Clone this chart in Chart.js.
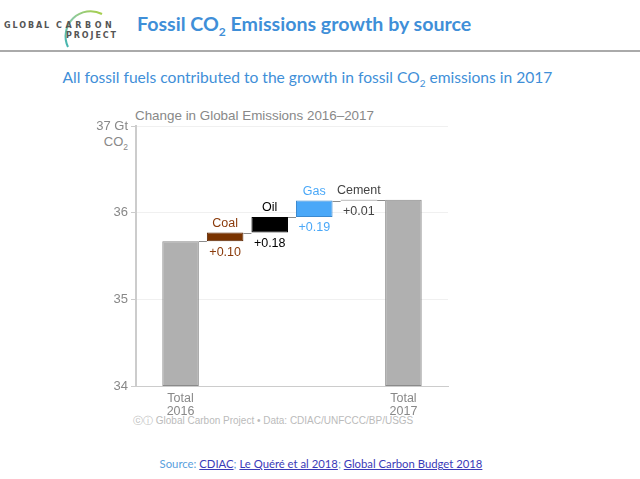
<!DOCTYPE html>
<html>
<head>
<meta charset="utf-8">
<script src="https://cdn.jsdelivr.net/npm/chart.js@4.4.0/dist/chart.umd.min.js"></script>
<style>
  body { margin: 0; background: #fff; }
  #wrap { position: relative; width: 640px; height: 479px; overflow: hidden; font-family: "Liberation Sans", Arial, sans-serif; }
  #chartCanvas { position: absolute; left: 0; top: 0; }
  .txt { position: absolute; white-space: nowrap; }
  .logo { font-family: "DejaVu Sans", sans-serif; font-weight: bold; font-size: 8px; color: #555; letter-spacing: 1.9px; }
  .hdr { font-family: Lato, "Open Sans", sans-serif; color: #3f8fd8; }
  a { color: #3a3ab8; text-decoration: underline; }
</style>
</head>
<body>
<div id="wrap">
  <svg style="position:absolute;left:0;top:0" width="140" height="52">
    <defs>
      <linearGradient id="arcGrad" x1="0" y1="1" x2="1" y2="0">
        <stop offset="0" stop-color="#3fb3b0"/>
        <stop offset="0.5" stop-color="#8cc9a0"/>
        <stop offset="1" stop-color="#a8cf45"/>
      </linearGradient>
    </defs>
    <path d="M 68 47 A 25 25 0 0 1 102 14" fill="none" stroke="url(#arcGrad)" stroke-width="2"/>
  </svg>
  <div class="txt logo" style="left:4px;top:21px">GLOBAL</div>
  <div class="txt logo" style="left:56px;top:21px;letter-spacing:3.6px">CARBON</div>
  <div class="txt logo" style="left:66px;top:31px">PROJECT</div>
  <div class="txt hdr" style="left:137px;top:12px;font-size:19.6px;font-weight:bold">Fossil CO<sub style="font-size:12px">2</sub> Emissions growth by source</div>
  <div style="position:absolute;left:0;top:50px;width:640px;height:2px;background:#aaa"></div>
  <div class="txt hdr" style="left:0;width:615px;text-align:center;top:68px;font-size:15.6px">All fossil fuels contributed to the growth in fossil CO<sub style="font-size:10px">2</sub> emissions in 2017</div>
  <div class="txt" style="left:135px;top:108px;font-size:13.4px;color:#888">Change in Global Emissions 2016–2017</div>
  <div class="txt" style="left:60px;width:68px;text-align:right;top:134px;font-size:13px;color:#888">CO<sub style="font-size:8.5px">2</sub></div>
  <div class="txt" style="left:133px;top:414px;font-size:10px;color:#bbb">ⓒⓘ Global Carbon Project • Data: CDIAC/UNFCCC/BP/USGS</div>
  <div class="txt hdr" style="left:0;width:642px;text-align:center;top:457px;font-size:11.3px;color:#5aa0dd">Source: <a>CDIAC</a>; <a>Le Quéré et al 2018</a>; <a>Global Carbon Budget 2018</a></div>
  <canvas id="chartCanvas" width="640" height="479"></canvas>
</div>
<script>
// waterfall: each bar runs from barBase to barTop (Gt CO2)
const categories = ['Total 2016', 'Coal', 'Oil', 'Gas', 'Cement', 'Total 2017'];
const barBase = [34, 35.67, 35.77, 35.95, 36.14, 34];
const barTop = [35.67, 35.77, 35.95, 36.14, 36.15, 36.15];
const changeLabels = ['', '+0.10', '+0.18', '+0.19', '+0.01', ''];
const barColors = ['#b0b0b0', '#7a3300', '#000000', '#4aa8f8', '#222222', '#b0b0b0'];
const borderColors = ['#8a8a8a', '#5a2500', '#000000', '#3b8ad0', '#222222', '#8a8a8a'];
const textColors = ['#888', '#8a3a0a', '#000', '#4aa8f8', '#444', '#888'];
const yTicks = [34, 35, 36, 37];

const waterfallLabels = {
    id: 'waterfallLabels',
    afterDatasetsDraw(chart) {
        const ctx = chart.ctx;
        const meta = chart.getDatasetMeta(0);
        const y = chart.scales.y;
        ctx.save();
        // connector lines between bars
        ctx.strokeStyle = '#8c8c8c';
        ctx.lineWidth = 1;
        for (let i = 0; i < meta.data.length - 1; i++) {
            const a = meta.data[i], b = meta.data[i + 1];
            const py = Math.round(y.getPixelForValue(barTop[i])) + 0.5;
            ctx.beginPath();
            ctx.moveTo(a.x + a.width / 2, py);
            ctx.lineTo(b.x - b.width / 2, py);
            ctx.stroke();
        }
        ctx.font = '12.5px "Liberation Sans", Arial, sans-serif';
        ctx.textAlign = 'center';
        ctx.textBaseline = 'middle';
        for (let i = 1; i < meta.data.length - 1; i++) {
            const bar = meta.data[i];
            ctx.fillStyle = textColors[i];
            ctx.fillText(categories[i], bar.x, y.getPixelForValue(barTop[i]) - 9);
            ctx.fillText(changeLabels[i], bar.x, y.getPixelForValue(barBase[i]) + 11);
        }
        ctx.restore();
    }
};

document.addEventListener('DOMContentLoaded', function() {
    const chartCanvas = document.getElementById('chartCanvas');
    const ctx = chartCanvas.getContext('2d');
    new Chart(ctx, {
        type: 'bar',
        data: {
            datasets: [{
                data: categories.map((c, i) => ({ x: i, y: [barBase[i], barTop[i]] })),
                backgroundColor: barColors,
                borderColor: borderColors,
                borderWidth: 1,
                borderSkipped: false,
                barPercentage: 0.82,
                categoryPercentage: 1
            }]
        },
        options: {
            responsive: false,
            animation: false,
            devicePixelRatio: 1,
            layout: { padding: { left: 76, right: 192, top: 126, bottom: 0 } },
            plugins: { legend: { display: false }, tooltip: { enabled: false } },
            scales: {
                x: {
                    type: 'linear',
                    offset: false,
                    min: -1,
                    max: 6,
                    afterBuildTicks: function(scale) {
                        scale.ticks = [{ value: 0 }, { value: 5 }];
                    },
                    afterFit: function(scale) { scale.height = 93; },
                    grid: { display: false, drawTicks: false },
                    border: { color: '#cccccc', width: 1 },
                    ticks: {
                        autoSkip: false,
                        maxRotation: 0,
                        padding: 6,
                        color: '#888',
                        font: { family: '"Liberation Sans", Arial, sans-serif', size: 12.5, lineHeight: 1.05 },
                        callback: function(v) {
                            return v === 0 ? ['Total', '2016'] : ['Total', '2017'];
                        }
                    }
                },
                y: {
                    min: 34,
                    max: 37,
                    afterBuildTicks: function(scale) {
                        scale.ticks = yTicks.map(v => ({ value: v }));
                    },
                    afterFit: function(scale) { scale.width = 60; },
                    grid: { color: '#f0f0f0', tickColor: '#cccccc', tickLength: 5 },
                    border: { color: '#cccccc', width: 2 },
                    ticks: {
                        padding: 3,
                        color: '#888',
                        font: { family: '"Liberation Sans", Arial, sans-serif', size: 13 },
                        callback: function(v) { return v === 37 ? '37 Gt' : v; }
                    }
                }
            }
        },
        plugins: [waterfallLabels]
    });
});
</script>
</body>
</html>
